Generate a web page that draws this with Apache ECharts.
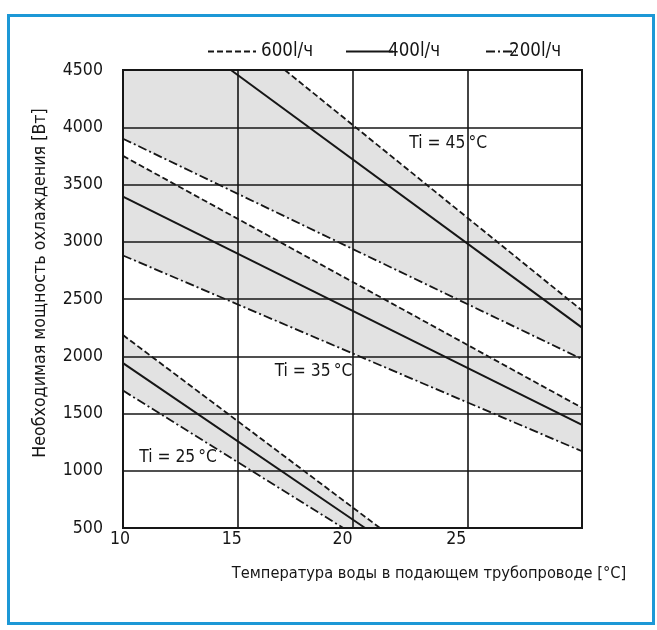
<!DOCTYPE html>
<html><head><meta charset="utf-8">
<script src="https://cdn.jsdelivr.net/npm/echarts@6/dist/echarts.min.js"></script>
<style>html,body{margin:0;padding:0;background:#fff}#c{width:657px;height:630px}</style>
</head><body><div id="c"></div>
<script>
// ---- data ----
const xTicks = [10, 15, 20, 25];
const yTicks = [500, 1000, 1500, 2000, 2500, 3000, 3500, 4000, 4500];
const flowNames = ['600l/ч', '400l/ч', '200l/ч'];
// Ti = 45 °C
const ti45_600 = [[17.05, 4500], [30, 2400]];
const ti45_400 = [[14.7, 4500], [30, 2250]];
const ti45_200 = [[10, 3900], [30, 1975]];
// Ti = 35 °C
const ti35_600 = [[10, 3750], [30, 1550]];
const ti35_400 = [[10, 3395], [30, 1400]];
const ti35_200 = [[10, 2880], [30, 1170]];
// Ti = 25 °C
const ti25_600 = [[10, 2185], [21.2, 500]];
const ti25_400 = [[10, 1940], [20.55, 500]];
const ti25_200 = [[10, 1700], [19.6, 500]];
const tiLabels = ['Ti = 45\u2009°C', 'Ti = 35\u2009°C', 'Ti = 25\u2009°C'];
const xName = 'Температура воды в подающем трубопроводе [°C]';
const yName = 'Необходимая мощность охлаждения [Вт]';

// ---- fonts ----
const mctx = document.createElement('canvas').getContext('2d');
function fontAvailable(name) {
  const s = 'mmmmwwwlli 0123456789 Температура';
  let r = false;
  ['monospace', 'serif'].forEach(fb => {
    mctx.font = '72px ' + fb; const a = mctx.measureText(s).width;
    mctx.font = "72px '" + name + "', " + fb; const b = mctx.measureText(s).width;
    if (Math.abs(a - b) > 0.5) r = true;
  });
  return r;
}
const FAMILY = ['Liberation Sans Narrow', 'DejaVu Sans Condensed', 'Liberation Sans', 'Arial'].find(fontAvailable) || 'sans-serif';
const FONT = "'" + FAMILY + "', sans-serif";
function fitSize(text, targetWidth) {
  mctx.font = "100px " + FONT;
  return Math.round(1000 * targetWidth / mctx.measureText(text).width) / 10;
}
const tickSize = Math.round(fitSize('25', 18.7) * 1.08 * 10) / 10;
const tiSize = Math.round(fitSize(tiLabels[0], 72) * 1.08 * 10) / 10;
const xNameSize = fitSize(xName, 395);
const yNameSize = fitSize(yName, 350);
const legendSize = fitSize('600l/ч', 52);

// ---- chart ----
const X_MIN = 10, X_MAX = 30, Y_MIN = 500, Y_MAX = 4500;
const INK = '#161616';
const bands = [
  [[X_MIN, Y_MAX]].concat(ti45_600, ti45_200.slice().reverse()),
  ti35_600.concat(ti35_200.slice().reverse()),
  ti25_600.concat(ti25_200.slice().reverse())
];
const styles = {
  '600l/ч': { type: [6, 3], width: 1.8 },
  '400l/ч': { type: 'solid', width: 2 },
  '200l/ч': { type: [9, 3, 2, 3], width: 1.8 }
};
const groups = [
  [ti45_600, ti45_400, ti45_200],
  [ti35_600, ti35_400, ti35_200],
  [ti25_600, ti25_400, ti25_200]
];
const lineSeries = [];
groups.forEach(g => g.forEach((pts, k) => {
  const name = flowNames[k];
  lineSeries.push({
    type: 'line', name: name, data: pts, symbol: 'none', z: 5, silent: true,
    lineStyle: { color: INK, width: styles[name].width, type: styles[name].type },
    itemStyle: { color: INK }
  });
}));
const labelAnchors = [[24.17, 3862], [18.3, 1870], [12.4, 1114]];
const labelShift = { 10: 3, 15: 6, 20: 10, 25: 11 };
const rich = {};
xTicks.forEach(v => { rich['t' + v] = { fontFamily: FONT, fontSize: tickSize, color: INK, padding: [0, 2 * labelShift[v], 0, 0] }; });

const chart = echarts.init(document.getElementById('c'), null, { renderer: 'canvas' });
const legendBase = {
  top: 37, itemHeight: 14, orient: 'horizontal', selectedMode: false,
  itemStyle: { opacity: 0 },
  textStyle: { fontFamily: FONT, fontSize: legendSize, color: INK }
};
chart.setOption({
  animation: false,
  backgroundColor: '#fff',
  grid: { left: 123, right: 75, top: 70, bottom: 102, show: true, borderColor: INK, borderWidth: 2, backgroundColor: 'transparent', z: 4 },
  legend: [
    Object.assign({}, legendBase, { data: ['600l/ч'], left: 202, itemWidth: 48 }),
    Object.assign({}, legendBase, { data: ['400l/ч'], left: 340, itemWidth: 47, textStyle: Object.assign({}, legendBase.textStyle, { padding: [0, 0, 0, -10] }) }),
    Object.assign({}, legendBase, { data: ['200l/ч'], left: 480, itemWidth: 30, textStyle: Object.assign({}, legendBase.textStyle, { padding: [0, 0, 0, -12] }) })
  ],
  xAxis: {
    type: 'value', min: X_MIN, max: X_MAX, interval: 5, z: 3,
    name: xName, nameLocation: 'middle', nameGap: Math.round(47 - 0.58 * xNameSize),
    nameTextStyle: { fontFamily: FONT, fontSize: xNameSize, color: INK, padding: [0, 0, 0, 153] },
    axisLine: { show: true, lineStyle: { color: INK, width: 2 } },
    axisTick: { show: false },
    axisLabel: { margin: 2, rich: rich,
      formatter: v => (xTicks.indexOf(v) >= 0 ? '{t' + v + '|' + v + '}' : '') },
    splitLine: { show: true, lineStyle: { color: INK, width: 1.6 } }
  },
  yAxis: {
    type: 'value', min: Y_MIN, max: Y_MAX, interval: 500, z: 3,
    name: yName, nameLocation: 'middle', nameGap: Math.round(83 - yNameSize / 2), nameRotate: 90,
    nameTextStyle: { fontFamily: FONT, fontSize: yNameSize, color: INK, padding: [0, 0, 0, 32] },
    axisLine: { show: true, lineStyle: { color: INK, width: 2 } },
    axisTick: { show: false },
    axisLabel: { margin: 20, fontFamily: FONT, fontSize: tickSize, color: INK,
      formatter: v => (yTicks.indexOf(v) >= 0 ? String(v) : '') },
    splitLine: { show: true, lineStyle: { color: INK, width: 1.6 } }
  },
  graphic: [{
    type: 'rect', left: 6, top: 13, z: 100, silent: true,
    shape: { width: 645, height: 608 },
    style: { fill: 'none', stroke: '#1c98d6', lineWidth: 3 }
  }],
  series: [{
    type: 'custom', z: 1, silent: true, clip: true,
    data: bands.map(b => b[0]),
    renderItem: (params, api) => ({
      type: 'polygon',
      shape: { points: bands[params.dataIndex].map(p => api.coord(p)) },
      style: { fill: '#e2e2e2' }
    })
  }].concat(lineSeries, [{
    type: 'custom', z: 6, silent: true,
    data: labelAnchors,
    renderItem: (params, api) => {
      const c = api.coord([api.value(0), api.value(1)]);
      return { type: 'text', x: c[0], y: c[1], style: { text: tiLabels[params.dataIndex], fontFamily: FONT, fontSize: tiSize, fill: INK, align: 'center', verticalAlign: 'middle' } };
    }
  }])
});
</script></body></html>
